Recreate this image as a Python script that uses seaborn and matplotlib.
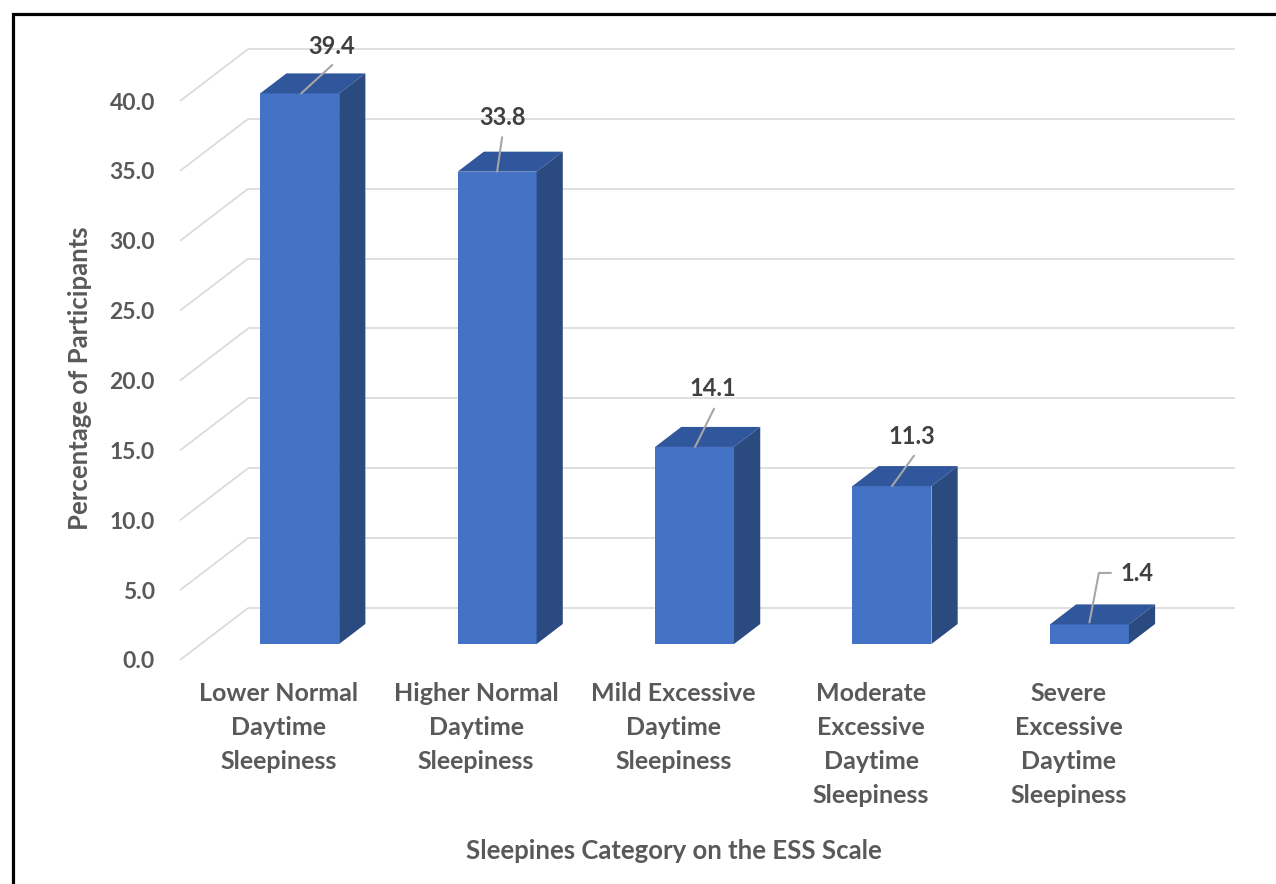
import matplotlib
matplotlib.use("Agg")
import matplotlib.pyplot as plt
from matplotlib.patches import Polygon, Rectangle
import pandas as pd
import seaborn as sns

# ---- data -------------------------------------------------------------
categories = [
    "Lower Normal\nDaytime\nSleepiness",
    "Higher Normal\nDaytime\nSleepiness",
    "Mild Excessive\nDaytime\nSleepiness",
    "Moderate\nExcessive\nDaytime\nSleepiness",
    "Severe\nExcessive\nDaytime\nSleepiness",
]
percentages = [39.4, 33.8, 14.1, 11.3, 1.4]
value_labels = ["39.4", "33.8", "14.1", "11.3", "1.4"]
y_ticks = [0, 5, 10, 15, 20, 25, 30, 35, 40]
y_tick_labels = ["0.0", "5.0", "10.0", "15.0", "20.0", "25.0", "30.0", "35.0", "40.0"]
x_title = "Sleepines Category on the ESS Scale"
y_title = "Percentage of Participants"

# ---- style ------------------------------------------------------------
W, H, DPI = 1276, 884, 100
FRONT = "#4472C4"
TOP = "#30569B"
SIDE = "#2A4A80"
GRID = "#D9D9D9"
TEXT = "#595959"
VALUE_TEXT = "#404040"
LEADER = "#A6A6A6"

sns.set_style("white")
plt.rcParams["font.family"] = ["Lato", "DejaVu Sans"]
plt.rcParams["font.weight"] = "bold"

# pseudo-3D geometry, in pixels (depth measured as vertical rise)
PX_X = 197.4          # pixels per category step
PX_Y = 13.96          # pixels per percentage unit
SLANT = 1.31          # horizontal shift per pixel of depth rise
BAR_FRONT, BAR_BACK, WALL = 16.0, 36.0, 52.0


def depth_shift(d):
    """Data-unit shift from the bar-front plane to depth d (pixels)."""
    dd = d - BAR_FRONT
    return dd * SLANT / PX_X, dd / PX_Y


fsx, fsy = depth_shift(0.0)      # floor front edge (negative shift)
wsx, wsy = depth_shift(WALL)     # back wall
bdx, bdy = depth_shift(BAR_BACK)  # bar depth

fig = plt.figure(figsize=(W / DPI, H / DPI), dpi=DPI)
left_px, right_px, top_px, bottom_px = 180.0, 1235.3, 49.0, 660.0
ax = fig.add_axes([left_px / W, 1 - bottom_px / H,
                   (right_px - left_px) / W, (bottom_px - top_px) / H])

df = pd.DataFrame({"category": categories, "percentage": percentages})
sns.barplot(data=df, x="category", y="percentage", ax=ax, color=FRONT,
            saturation=1, width=0.4, linewidth=0, zorder=3)

ax.set_xlim(-0.5 + fsx, 4.5 + wsx)
ax.set_ylim(fsy, y_ticks[-1] + wsy)

# gridlines: diagonal on the side wall, horizontal on the back wall
for v in y_ticks:
    ax.plot([-0.5 + fsx, -0.5 + wsx], [v + fsy, v + wsy], color=GRID,
            lw=1.2, zorder=0.5, clip_on=False, solid_capstyle="butt")
    ax.plot([-0.5 + wsx, 4.5 + wsx], [v + wsy, v + wsy], color=GRID,
            lw=1.2, zorder=0.5, clip_on=False, solid_capstyle="butt")

# top and side faces of every bar
for bar in list(ax.patches):
    x0 = bar.get_x()
    x1 = x0 + bar.get_width()
    h = bar.get_height()
    top = Polygon([(x0, h), (x1, h), (x1 + bdx, h + bdy), (x0 + bdx, h + bdy)],
                  closed=True, facecolor=TOP, edgecolor="none", zorder=3,
                  clip_on=False)
    side = Polygon([(x1, 0), (x1 + bdx, bdy), (x1 + bdx, h + bdy), (x1, h)],
                   closed=True, facecolor=SIDE, edgecolor="none", zorder=3,
                   clip_on=False)
    ax.add_patch(top)
    ax.add_patch(side)

# axis ticks placed on the front edge of the floor
ax.set_yticks([v + fsy for v in y_ticks], labels=y_tick_labels)
ax.set_xticks([i + fsx for i in range(len(categories))], labels=categories)
ax.tick_params(axis="y", length=0, pad=18, labelsize=16.5, labelcolor=TEXT)
ax.tick_params(axis="x", length=0, pad=16, labelsize=18, labelcolor=TEXT)
for t in ax.get_xticklabels():
    t.set_linespacing(1.57)
    t.set_fontweight("bold")
for t in ax.get_yticklabels():
    t.set_fontweight("bold")
for s in ax.spines.values():
    s.set_visible(False)
ax.set_facecolor("none")

ax.set_xlabel(x_title, fontsize=18.5, color=TEXT, fontweight="bold")
ax.set_ylabel(y_title, fontsize=18.5, color=TEXT, fontweight="bold")
ax.xaxis.set_label_coords(0.468, -0.293)
ax.yaxis.set_label_coords(-0.083, 0.461)

# value labels with leader lines (offsets in pixels from the bar's top)
label_offsets = [(31.5, 47.4), (5.0, 54.5), (18.5, 58.3), (20.0, 49.4), (47.5, 50.5)]
leader_paths = [
    [(1.5, 0.0), (32.5, 28.4)],
    [(0.0, 0.0), (5.0, 34.5)],
    [(0.5, 0.0), (19.5, 38.3)],
    [(0.0, 0.0), (22.0, 30.4)],
    [(0.0, 2.0), (9.5, 51.5), (21.5, 51.5)],
]
for i, (v, lbl) in enumerate(zip(percentages, value_labels)):
    ax_px, ay_px = ax.transData.transform((i, v))
    path = leader_paths[i]
    fig.add_artist(plt.Line2D([ax_px + p[0] for p in path],
                              [ay_px + p[1] for p in path],
                              transform=None, color=LEADER, lw=1.5, zorder=4))
    ax.annotate(lbl, xy=(i, v), xytext=label_offsets[i],
                textcoords="offset pixels", ha="center", va="center",
                fontsize=17, fontweight="bold", color=VALUE_TEXT, zorder=5)

# outer chart frame (top and left edges visible)
fig.add_artist(Rectangle((12.5 / W, -0.5), 2.0, 0.5 + 1 - 14.0 / H,
                         transform=fig.transFigure, fill=False,
                         edgecolor="black", lw=2.3, clip_on=False))

fig.savefig("out.png", dpi=DPI, facecolor="white")
